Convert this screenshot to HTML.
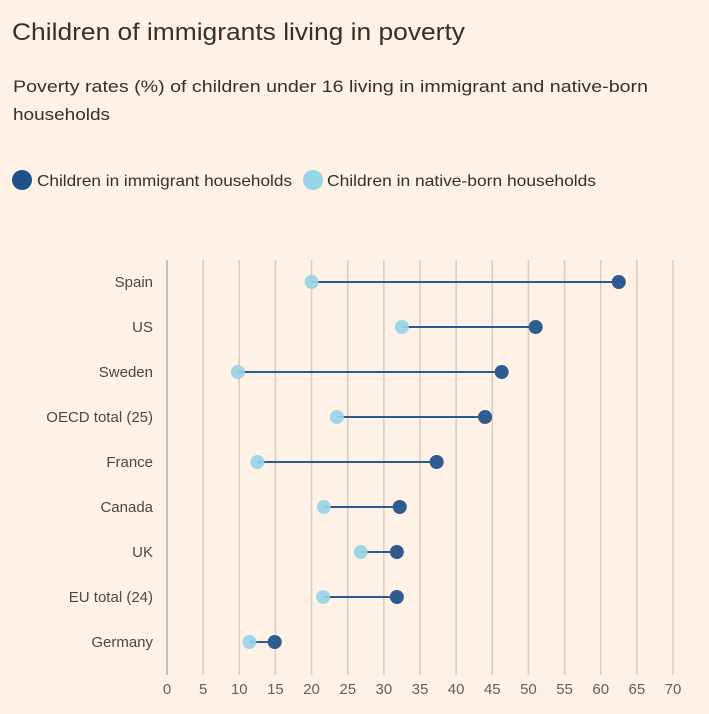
<!DOCTYPE html>
<html><head><meta charset="utf-8"><style>
html,body{margin:0;padding:0;background:#fff1e5;}
svg{display:block;font-family:"Liberation Sans",sans-serif;}
</style></head><body>
<svg width="709" height="714" viewBox="0 0 709 714" xmlns="http://www.w3.org/2000/svg">
<rect width="709" height="714" fill="#fff1e5"/>
<text x="12" y="40" font-size="24" fill="#33302e" textLength="453" lengthAdjust="spacingAndGlyphs">Children of immigrants living in poverty</text>
<text x="13" y="92" font-size="17" fill="#33302e" textLength="635" lengthAdjust="spacingAndGlyphs">Poverty rates (%) of children under 16 living in immigrant and native-born</text>
<text x="13" y="120" font-size="17" fill="#33302e" textLength="97" lengthAdjust="spacingAndGlyphs">households</text>
<circle cx="22" cy="180" r="10" fill="#1f5189"/>
<text x="37" y="186" font-size="16" fill="#33302e" textLength="255" lengthAdjust="spacingAndGlyphs">Children in immigrant households</text>
<circle cx="313" cy="180" r="10" fill="#96d4e8"/>
<text x="327" y="186" font-size="16" fill="#33302e" textLength="269" lengthAdjust="spacingAndGlyphs">Children in native-born households</text>
<g id="grid" stroke="#d9cbbf" stroke-width="1.5"></g>
<g id="ticks" font-size="15" fill="#66605c" text-anchor="middle"></g>
<g id="rows"></g>
</svg>
<script>
var ns="http://www.w3.org/2000/svg";
function X(v){return 167+v*506/70;}
var g=document.getElementById('grid'),t=document.getElementById('ticks'),r=document.getElementById('rows');
for(var v=0;v<=70;v+=5){
 var l=document.createElementNS(ns,'line');l.setAttribute('x1',X(v));l.setAttribute('x2',X(v));l.setAttribute('y1',260);l.setAttribute('y2',675);
 if(v==0)l.setAttribute('stroke','#b8aca3');g.appendChild(l);
 var tx=document.createElementNS(ns,'text');tx.setAttribute('x',X(v));tx.setAttribute('y',694);tx.textContent=v;t.appendChild(tx);
}
var d=[["Spain",20,62.5],["US",32.5,51],["Sweden",9.8,46.3],["OECD total (25)",23.5,44],["France",12.5,37.3],["Canada",21.7,32.2],["UK",26.8,31.8],["EU total (24)",21.6,31.8],["Germany",11.4,14.9]];
d.forEach(function(a,i){
 var y=282+i*45;
 var lb=document.createElementNS(ns,'text');lb.setAttribute('x',153);lb.setAttribute('y',y+5);lb.setAttribute('font-size',15);lb.setAttribute('fill','#4d4845');lb.setAttribute('text-anchor','end');lb.textContent=a[0];r.appendChild(lb);
 var ln=document.createElementNS(ns,'line');ln.setAttribute('x1',X(a[1]));ln.setAttribute('x2',X(a[2]));ln.setAttribute('y1',y);ln.setAttribute('y2',y);ln.setAttribute('stroke','#2b5a8f');ln.setAttribute('stroke-width',2);r.appendChild(ln);
 var c1=document.createElementNS(ns,'circle');c1.setAttribute('cx',X(a[1]));c1.setAttribute('cy',y);c1.setAttribute('r',7);c1.setAttribute('fill','#96d4e8');c1.setAttribute('fill-opacity','0.9');r.appendChild(c1);
 var c2=document.createElementNS(ns,'circle');c2.setAttribute('cx',X(a[2]));c2.setAttribute('cy',y);c2.setAttribute('r',7);c2.setAttribute('fill','#2e5c91');r.appendChild(c2);
});
</script>
</body></html>
